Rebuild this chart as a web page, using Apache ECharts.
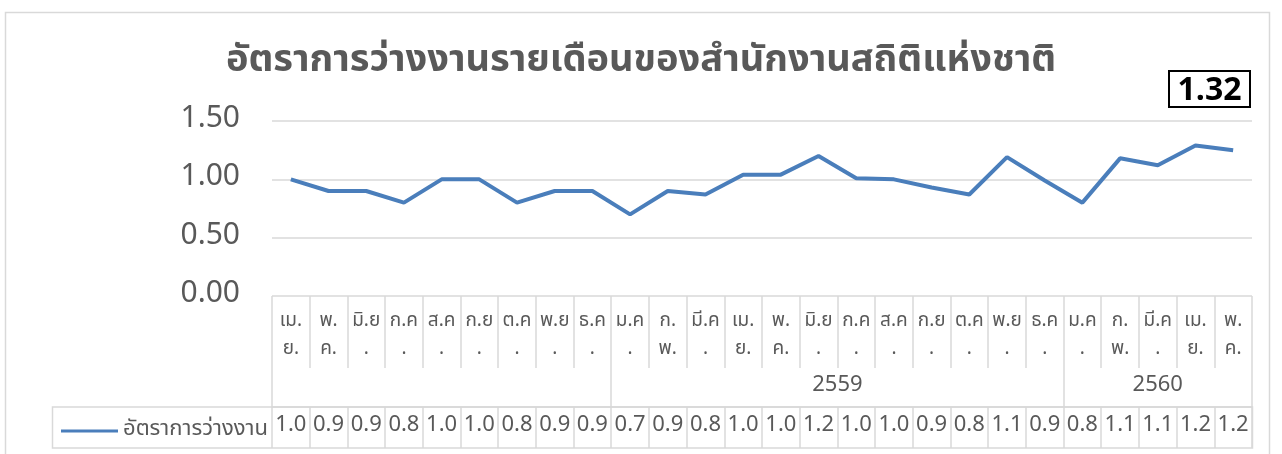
<!DOCTYPE html>
<html lang="th">
<head>
    <meta charset="UTF-8">
    <title>อัตราการว่างงาน</title>
    <script src="https://cdn.jsdelivr.net/npm/echarts@6/dist/echarts.min.js"></script>
    <style>
        html, body { margin: 0; padding: 0; background: #fff; }
        #chart { width: 1282px; height: 454px; }
    </style>
</head>
<body>
    <div id="chart"></div>
    <script>
    // ข้อมูล
    var monthLabels = ['เม.\nย.', 'พ.\nค.', 'มิ.ย\n.', 'ก.ค\n.', 'ส.ค\n.', 'ก.ย\n.', 'ต.ค\n.', 'พ.ย\n.', 'ธ.ค\n.',
        'ม.ค\n.', 'ก.\nพ.', 'มี.ค\n.', 'เม.\nย.', 'พ.\nค.', 'มิ.ย\n.', 'ก.ค\n.', 'ส.ค\n.', 'ก.ย\n.', 'ต.ค\n.', 'พ.ย\n.', 'ธ.ค\n.',
        'ม.ค\n.', 'ก.\nพ.', 'มี.ค\n.', 'เม.\nย.', 'พ.\nค.'];
    var yearLabels = ['', '2559', '2560'];
    var yearSpans = [9, 12, 5];
    var rates = [1.00, 0.90, 0.90, 0.80, 1.00, 1.00, 0.80, 0.90, 0.90,
        0.70, 0.90, 0.87, 1.04, 1.04, 1.20, 1.01, 1.00, 0.93, 0.87, 1.19, 0.99,
        0.80, 1.18, 1.12, 1.29, 1.25];
    var yTicks = [0, 0.5, 1.0, 1.5];
    var seriesName = 'อัตราการว่างงาน';
    var titleText = 'อัตราการว่างงานรายเดือนของสำนักงานสถิติแห่งชาติ';
    var boxText = '1.32';

    // ค่าในตาราง (Excel ตัดให้เหลือ 3 ตัวอักษร)
    var tableTexts = rates.map(function (v) { return v.toFixed(2).slice(0, 3); });

    // ขอบของกลุ่มปี และจุดกึ่งกลาง
    var yearEdges = [0], yearCenters = [];
    yearSpans.forEach(function (s, i) {
        var start = yearEdges[yearEdges.length - 1];
        yearEdges.push(start + s);
        yearCenters.push(start + s / 2);
    });

    var thai = '"Noto Sans Thai", "Noto Sans Thai UI", "Leelawadee UI", "Noto Sans", sans-serif';
    var gray = '#595959';
    var lineGray = '#d9d9d9';
    var blue = '#4a7ebb';

    var myChart = echarts.init(document.getElementById('chart'));
    var option = {
        animation: false,
        textStyle: { fontFamily: thai },
        title: {
            text: titleText,
            left: 'center',
            top: 39,
            textStyle: { fontSize: 38, fontWeight: 'bold', color: gray, fontFamily: thai }
        },
        legend: {
            data: [seriesName],
            left: 56,
            top: 415,
            itemWidth: 57,
            itemHeight: 14,
            itemGap: 4,
            icon: 'path://M0,5.5 L57,5.5 L57,8.5 L0,8.5 Z',
            textStyle: { fontSize: 22, color: gray, fontFamily: thai }
        },
        grid: {
            left: 272,
            right: 30,
            top: 121,
            height: 175,
            containLabel: false
        },
        xAxis: [{
            type: 'category',
            data: monthLabels,
            boundaryGap: true,
            axisLine: { show: false },
            axisTick: { show: true, interval: 0, length: 72, lineStyle: { color: lineGray, width: 1.5 } },
            axisLabel: { interval: 0, fontSize: 19, lineHeight: 28, color: gray, margin: 12, fontFamily: thai }
        }, {
            type: 'value',
            min: 0,
            max: monthLabels.length,
            offset: 72,
            position: 'bottom',
            splitLine: { show: false },
            axisLine: { show: false },
            axisTick: { show: true, customValues: yearEdges, length: 39, lineStyle: { color: lineGray, width: 1.5 } },
            axisLabel: {
                customValues: yearCenters,
                fontSize: 22,
                color: gray,
                margin: 8,
                fontFamily: thai,
                formatter: function (v) {
                    var i = yearCenters.indexOf(v);
                    return i >= 0 ? yearLabels[i] : '';
                }
            }
        }, {
            type: 'category',
            data: tableTexts,
            boundaryGap: true,
            offset: 111,
            position: 'bottom',
            axisLine: { show: true, lineStyle: { color: lineGray, width: 1.5 } },
            axisTick: { show: true, interval: 0, length: 41, lineStyle: { color: lineGray, width: 1.5 } },
            axisLabel: { interval: 0, fontSize: 22, color: gray, margin: 9, fontFamily: thai }
        }],
        yAxis: {
            type: 'value',
            min: yTicks[0],
            max: yTicks[yTicks.length - 1],
            interval: yTicks[1] - yTicks[0],
            axisLine: { show: false },
            axisTick: { show: false },
            splitLine: { lineStyle: { color: lineGray, width: 1.5 } },
            axisLabel: {
                fontSize: 30,
                color: gray,
                margin: 32,
                padding: [5, 0, 0, 0],
                fontFamily: thai,
                formatter: function (v) { return v.toFixed(2); }
            }
        },
        series: [{
            name: seriesName,
            type: 'line',
            data: rates,
            symbol: 'none',
            lineStyle: { color: blue, width: 4 },
            itemStyle: { color: blue }
        }],
        graphic: [{
            // กรอบของแผนภูมิ
            type: 'rect',
            shape: { x: 5.5, y: 12.5, width: 1264, height: 460 },
            style: { fill: 'none', stroke: lineGray, lineWidth: 1.5 },
            silent: true
        }, {
            // แถวค่าของตาราง รวมช่องคำอธิบาย
            type: 'rect',
            shape: { x: 52.5, y: 407, width: 1200, height: 41 },
            style: { fill: 'none', stroke: lineGray, lineWidth: 1.5 },
            silent: true
        }, {
            type: 'group',
            left: 1168,
            top: 70,
            children: [{
                type: 'rect',
                shape: { x: 0, y: 0, width: 81, height: 36 },
                style: { fill: '#fff', stroke: '#000', lineWidth: 2 }
            }, {
                type: 'text',
                x: 40.5,
                y: 20,
                style: {
                    text: boxText,
                    fontSize: 32,
                    fontWeight: 'bold',
                    fill: '#000',
                    align: 'center',
                    verticalAlign: 'middle',
                    fontFamily: '"Open Sans", "Noto Sans", sans-serif'
                }
            }]
        }]
    };
    myChart.setOption(option);
    </script>
</body>
</html>
